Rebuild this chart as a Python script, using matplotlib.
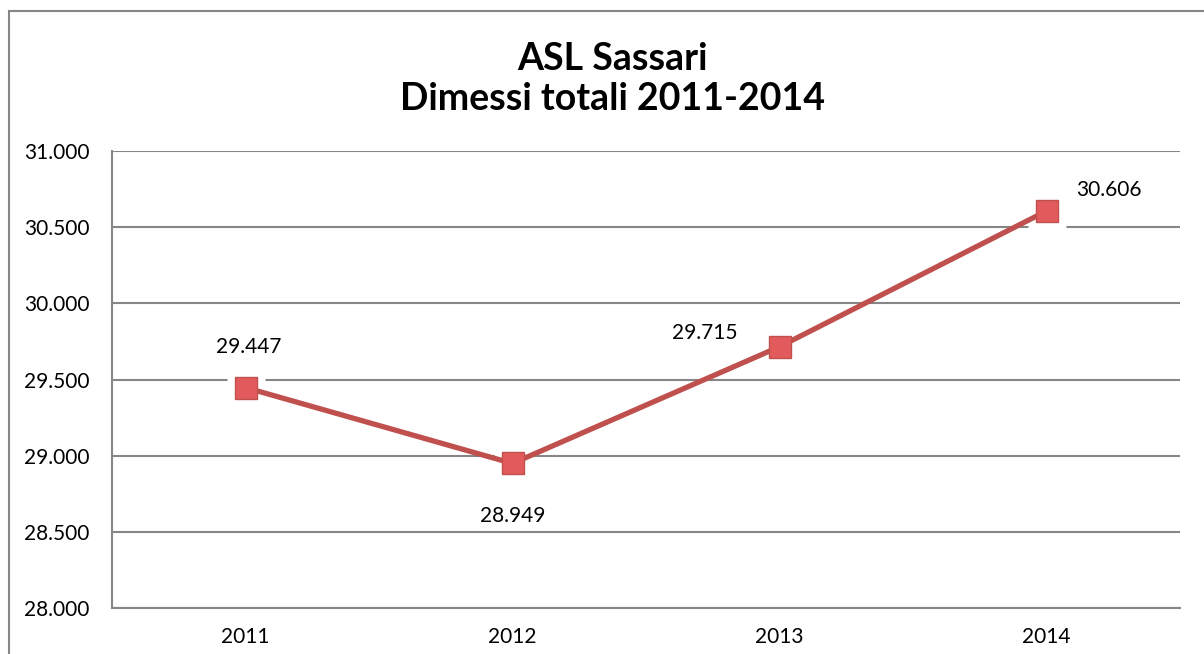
import matplotlib.pyplot as plt
from matplotlib.patches import Rectangle
from matplotlib.ticker import FuncFormatter

# dati
anni = ["2011", "2012", "2013", "2014"]
dimessi = [29447, 28949, 29715, 30606]
# posizione etichette (offset in punti rispetto al marker)
label_offsets = [(2, 29), (0, -38), (-54, 10), (45, 15)]


def fmt_it(v, pos=None):
    return f"{int(round(v)):,}".replace(",", ".")


plt.rcParams['font.family'] = ['Lato', 'DejaVu Sans']

fig = plt.figure(figsize=(12.04, 6.54), dpi=100)
fig.patch.set_facecolor("white")

# bordo del grafico (tagliato a destra e in basso)
fig.patches.append(Rectangle((9 / 1204, -0.1), 1.5, 1.1 - 11 / 654,
                             transform=fig.transFigure, fill=False,
                             edgecolor="#868686", linewidth=1.5))

ax = fig.add_axes([112 / 1204, 46 / 654, (1180 - 112) / 1204, (608 - 151) / 654])

x = range(len(anni))
# alone bianco dietro i marker (ombra in stile Excel)
ax.plot(x, dimessi, linestyle="none", marker="s", markersize=28,
        markerfacecolor="white", markeredgecolor="none", zorder=2.5)
ax.plot(x, dimessi, color="#C0504D", linewidth=3.8, zorder=3,
        marker="s", markersize=16, markerfacecolor="#E35A5C",
        markeredgecolor="#C0504D", markeredgewidth=1.0)

for i, v in enumerate(dimessi):
    ax.annotate(fmt_it(v), (i, v), xytext=label_offsets[i], textcoords="offset points",
                ha="center", va="center", fontsize=15, color="black", zorder=4)

ax.set_xlim(-0.5, len(anni) - 0.5)
ax.set_ylim(28000, 31000)
ax.set_yticks([28000, 28500, 29000, 29500, 30000, 30500, 31000])
ax.yaxis.set_major_formatter(FuncFormatter(fmt_it))
ax.set_xticks(list(x))
ax.set_xticklabels(anni)
ax.tick_params(axis="both", length=0, labelsize=15, colors="black")
ax.tick_params(axis="y", pad=16)
ax.tick_params(axis="x", pad=14)

ax.grid(axis="y", color="#868686", linewidth=1.5, zorder=0)
ax.set_axisbelow(True)
for s in ["top", "right"]:
    ax.spines[s].set_visible(False)
for s in ["left", "bottom"]:
    ax.spines[s].set_color("#868686")
    ax.spines[s].set_linewidth(1.5)

fig.text(612 / 1204, 1 - 79 / 654, "ASL Sassari\nDimessi totali 2011-2014",
         ha="center", va="center", fontsize=27, fontweight="bold", linespacing=1.2)

fig.savefig("out.png", dpi=100)
